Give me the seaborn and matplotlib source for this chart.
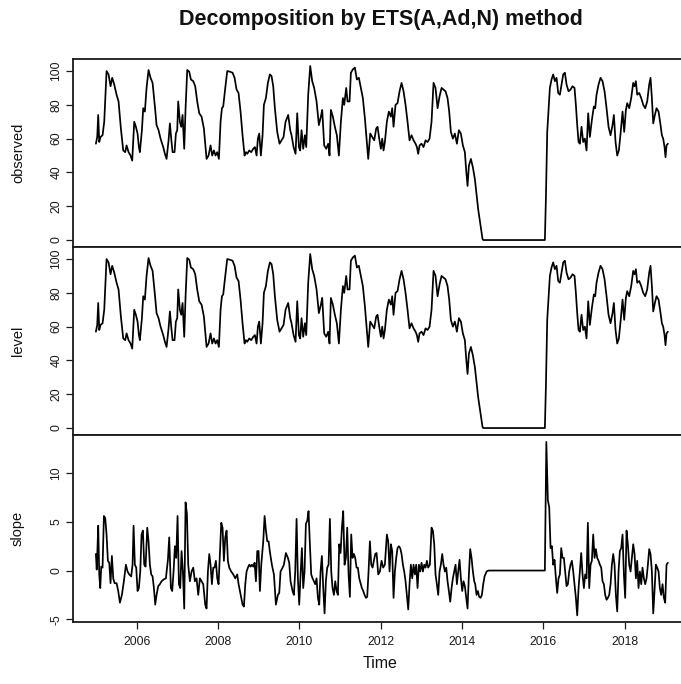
import matplotlib
matplotlib.use("Agg")
import matplotlib.pyplot as plt
import seaborn as sns
import numpy as np
import pandas as pd

# ---------------- data ----------------
obs_time = [
    2005.000, 2005.033, 2005.057, 2005.082, 2005.115, 2005.164, 2005.205, 2005.262, 2005.311, 2005.360,
    2005.401, 2005.451, 2005.508, 2005.557, 2005.614, 2005.672, 2005.721, 2005.754, 2005.803, 2005.852,
    2005.893, 2005.942, 2005.983, 2006.024, 2006.057, 2006.081, 2006.131, 2006.163, 2006.204, 2006.245,
    2006.294, 2006.343, 2006.393, 2006.450, 2006.491, 2006.540, 2006.589, 2006.655, 2006.696, 2006.737,
    2006.786, 2006.819, 2006.851, 2006.884, 2006.933, 2006.966, 2006.999, 2007.023, 2007.064, 2007.097,
    2007.130, 2007.171, 2007.204, 2007.245, 2007.294, 2007.335, 2007.392, 2007.441, 2007.490, 2007.540,
    2007.597, 2007.654, 2007.687, 2007.720, 2007.769, 2007.818, 2007.859, 2007.900, 2007.941, 2007.982,
    2008.023, 2008.064, 2008.097, 2008.129, 2008.170, 2008.228, 2008.293, 2008.359, 2008.408, 2008.457,
    2008.506, 2008.555, 2008.604, 2008.654, 2008.686, 2008.719, 2008.768, 2008.817, 2008.867, 2008.908,
    2008.949, 2008.981, 2009.014, 2009.055, 2009.096, 2009.129, 2009.178, 2009.227, 2009.276, 2009.317,
    2009.358, 2009.399, 2009.456, 2009.513, 2009.563, 2009.612, 2009.661, 2009.726, 2009.776, 2009.808,
    2009.858, 2009.907, 2009.948, 2009.989, 2010.021, 2010.054, 2010.095, 2010.136, 2010.169, 2010.218,
    2010.267, 2010.316, 2010.365, 2010.423, 2010.480, 2010.529, 2010.562, 2010.611, 2010.660, 2010.709,
    2010.742, 2010.775, 2010.824, 2010.873, 2010.922, 2010.972, 2011.021, 2011.070, 2011.103, 2011.152,
    2011.185, 2011.234, 2011.267, 2011.316, 2011.365, 2011.414, 2011.463, 2011.512, 2011.561, 2011.611,
    2011.652, 2011.693, 2011.742, 2011.791, 2011.840, 2011.889, 2011.922, 2011.963, 2012.004, 2012.037,
    2012.069, 2012.102, 2012.151, 2012.200, 2012.250, 2012.282, 2012.315, 2012.364, 2012.413, 2012.463,
    2012.512, 2012.561, 2012.610, 2012.659, 2012.708, 2012.757, 2012.807, 2012.856, 2012.889, 2012.921,
    2012.954, 2013.003, 2013.052, 2013.102, 2013.151, 2013.200, 2013.249, 2013.298, 2013.347, 2013.397,
    2013.446, 2013.495, 2013.544, 2013.593, 2013.642, 2013.683, 2013.724, 2013.773, 2013.822, 2013.872,
    2013.921, 2013.970, 2014.019, 2014.068, 2014.101, 2014.134, 2014.167, 2014.216, 2014.265, 2014.314,
    2014.350, 2014.396, 2014.453, 2014.502, 2014.519, 2016.034, 2016.059, 2016.092, 2016.133, 2016.157,
    2016.198, 2016.239, 2016.280, 2016.321, 2016.362, 2016.403, 2016.444, 2016.485, 2016.526, 2016.567,
    2016.616, 2016.665, 2016.714, 2016.763, 2016.796, 2016.829, 2016.862, 2016.894, 2016.935, 2016.976,
    2017.017, 2017.058, 2017.099, 2017.140, 2017.189, 2017.238, 2017.271, 2017.304, 2017.353, 2017.402,
    2017.451, 2017.501, 2017.550, 2017.599, 2017.648, 2017.697, 2017.730, 2017.771, 2017.812, 2017.853,
    2017.894, 2017.943, 2017.984, 2018.025, 2018.058, 2018.107, 2018.156, 2018.205, 2018.238, 2018.271,
    2018.303, 2018.353, 2018.402, 2018.451, 2018.500, 2018.549, 2018.598, 2018.631, 2018.664, 2018.697,
    2018.738, 2018.778, 2018.828, 2018.877, 2018.910, 2018.942, 2018.975, 2018.999, 2019.024, 2019.057,
]
obs_values = [
    57, 61, 74, 58, 61, 62, 70, 100, 98, 91,
    96, 92, 86, 82, 66, 53, 52, 56, 52, 50,
    47, 70, 67, 63, 55, 52, 65, 78, 76, 90,
    100.6, 96, 93, 79, 68, 65, 60, 55, 51, 48,
    59, 69, 60, 52, 52, 63, 65, 82, 70, 67,
    74, 54, 78, 100.6, 99.6, 95, 94, 91, 82, 75,
    73, 66, 57, 48, 50, 56, 50, 53, 50, 52,
    48, 70, 78, 79, 88, 100, 99.6, 99, 96, 89,
    87, 76, 62, 50, 52, 51, 53, 52, 54, 55,
    50, 60, 63, 50, 62, 80, 84, 93, 98, 97,
    91, 78, 64, 57, 59, 61, 70, 74, 65, 62,
    55, 51, 75, 55, 53, 65, 54, 62, 55, 86,
    103, 94, 90, 82, 68, 73, 77, 56, 54, 57,
    50, 77, 73, 67, 62, 50, 70, 84, 80, 90,
    82, 82, 99, 101, 102, 95, 96, 90, 84, 72,
    60, 48, 63, 61, 59, 66, 67, 60, 54, 60,
    53, 58, 70, 76, 73, 78, 67, 80, 81, 88,
    93, 88, 80, 70, 59, 62, 59, 57, 55, 51,
    56, 57, 55, 59, 58, 60, 70, 93, 90, 78,
    85, 90, 89, 88, 84, 76, 64, 60, 63, 57,
    65, 63, 56, 52, 41, 32, 44, 48, 43, 36,
    28, 18, 8.5, 0.6, 0, 0, 24, 64, 80, 90,
    95, 98, 94, 96, 87, 86, 92, 98, 99, 92,
    88, 89, 91, 90, 80, 68, 58, 57, 67, 58,
    60, 53, 75, 61, 71, 79, 78, 86, 92, 96,
    94, 88, 78, 67, 62, 68, 74, 58, 50, 53,
    63, 76, 64, 77, 81, 78, 84, 93, 91, 94,
    86, 87, 84, 80, 78, 82, 92, 96, 84, 69,
    74, 78, 76, 68, 62, 60, 55, 49, 56, 57,
]
# the fitted level follows the observed series
level_time = list(obs_time)
level_values = list(obs_values)

slope_time = [
    2005.000, 2005.020, 2005.033, 2005.057, 2005.082, 2005.107, 2005.131, 2005.164, 2005.197, 2005.229,
    2005.262, 2005.295, 2005.328, 2005.360, 2005.393, 2005.426, 2005.459, 2005.508, 2005.549, 2005.590,
    2005.639, 2005.688, 2005.737, 2005.778, 2005.819, 2005.868, 2005.901, 2005.926, 2005.958, 2005.991,
    2006.024, 2006.057, 2006.090, 2006.122, 2006.155, 2006.188, 2006.221, 2006.262, 2006.294, 2006.327,
    2006.360, 2006.393, 2006.426, 2006.458, 2006.491, 2006.532, 2006.573, 2006.614, 2006.671, 2006.720,
    2006.770, 2006.802, 2006.843, 2006.876, 2006.909, 2006.942, 2006.974, 2007.007, 2007.040, 2007.073,
    2007.105, 2007.138, 2007.171, 2007.204, 2007.237, 2007.269, 2007.310, 2007.351, 2007.392, 2007.433,
    2007.474, 2007.515, 2007.556, 2007.597, 2007.638, 2007.687, 2007.720, 2007.753, 2007.786, 2007.818,
    2007.851, 2007.884, 2007.917, 2007.949, 2007.982, 2008.015, 2008.048, 2008.081, 2008.113, 2008.146,
    2008.179, 2008.212, 2008.244, 2008.277, 2008.326, 2008.376, 2008.425, 2008.474, 2008.507, 2008.539,
    2008.572, 2008.605, 2008.638, 2008.671, 2008.703, 2008.736, 2008.769, 2008.802, 2008.834, 2008.867,
    2008.900, 2008.933, 2008.966, 2008.998, 2009.031, 2009.064, 2009.113, 2009.146, 2009.179, 2009.211,
    2009.244, 2009.277, 2009.325, 2009.375, 2009.424, 2009.473, 2009.506, 2009.538, 2009.588, 2009.620,
    2009.669, 2009.719, 2009.751, 2009.784, 2009.833, 2009.866, 2009.899, 2009.932, 2009.964, 2009.997,
    2010.030, 2010.063, 2010.095, 2010.128, 2010.161, 2010.194, 2010.226, 2010.259, 2010.292, 2010.325,
    2010.358, 2010.390, 2010.423, 2010.456, 2010.489, 2010.521, 2010.554, 2010.587, 2010.620, 2010.652,
    2010.685, 2010.718, 2010.751, 2010.784, 2010.816, 2010.849, 2010.882, 2010.915, 2010.947, 2010.980,
    2011.013, 2011.046, 2011.078, 2011.111, 2011.144, 2011.177, 2011.210, 2011.242, 2011.275, 2011.308,
    2011.341, 2011.373, 2011.406, 2011.439, 2011.472, 2011.504, 2011.537, 2011.570, 2011.603, 2011.636,
    2011.668, 2011.701, 2011.734, 2011.767, 2011.799, 2011.832, 2011.865, 2011.898, 2011.939, 2011.980,
    2012.020, 2012.061, 2012.102, 2012.151, 2012.184, 2012.217, 2012.250, 2012.282, 2012.315, 2012.348,
    2012.381, 2012.413, 2012.446, 2012.479, 2012.512, 2012.545, 2012.577, 2012.610, 2012.643, 2012.676,
    2012.708, 2012.741, 2012.774, 2012.807, 2012.840, 2012.872, 2012.905, 2012.938, 2012.971, 2013.003,
    2013.036, 2013.069, 2013.102, 2013.135, 2013.167, 2013.208, 2013.249, 2013.282, 2013.315, 2013.347,
    2013.380, 2013.413, 2013.446, 2013.478, 2013.511, 2013.544, 2013.577, 2013.610, 2013.642, 2013.675,
    2013.708, 2013.741, 2013.773, 2013.806, 2013.839, 2013.872, 2013.904, 2013.937, 2013.970, 2014.003,
    2014.035, 2014.068, 2014.101, 2014.134, 2014.167, 2014.199, 2014.232, 2014.265, 2014.298, 2014.322,
    2014.355, 2014.388, 2014.420, 2014.453, 2014.486, 2014.519, 2014.552, 2014.601, 2014.650, 2016.034,
    2016.070, 2016.108, 2016.141, 2016.174, 2016.206, 2016.239, 2016.272, 2016.305, 2016.337, 2016.370,
    2016.403, 2016.436, 2016.468, 2016.501, 2016.534, 2016.567, 2016.600, 2016.632, 2016.665, 2016.698,
    2016.731, 2016.763, 2016.796, 2016.829, 2016.862, 2016.894, 2016.927, 2016.960, 2016.993, 2017.025,
    2017.058, 2017.091, 2017.124, 2017.157, 2017.189, 2017.222, 2017.255, 2017.288, 2017.320, 2017.353,
    2017.386, 2017.419, 2017.451, 2017.484, 2017.517, 2017.550, 2017.583, 2017.615, 2017.648, 2017.681,
    2017.714, 2017.746, 2017.779, 2017.812, 2017.845, 2017.877, 2017.910, 2017.943, 2017.976, 2018.008,
    2018.041, 2018.074, 2018.107, 2018.140, 2018.172, 2018.205, 2018.238, 2018.271, 2018.303, 2018.336,
    2018.369, 2018.402, 2018.434, 2018.467, 2018.500, 2018.533, 2018.566, 2018.598, 2018.631, 2018.664,
    2018.697, 2018.729, 2018.762, 2018.795, 2018.828, 2018.860, 2018.893, 2018.926, 2018.959, 2018.991,
    2019.024, 2019.057,
]
slope_values = [
    1.7, 0.1, 1.5, 4.6, -0.4, -1.8, 0.4, 0.3, 5.6, 5.4,
    3.7, 1.0, 0.8, -1.3, 1.5, -0.8, -1.3, -1.3, -2.1, -3.3,
    -2.5, -1.1, 0.6, -0.1, -0.4, -0.6, 0.6, 4.6, 0.6, 0.3,
    -2.1, -1.8, -0.1, 3.7, 4.1, 0.6, 0.4, 4.4, 3.0, 0.6,
    -0.4, -0.6, -1.8, -3.5, -2.5, -1.6, -1.4, -1.1, -0.9, -0.8,
    1.1, 3.4, -1.8, -2.1, -0.1, 2.5, 1.3, 5.6, -1.4, -1.8,
    2.0, -0.1, -3.9, 7.0, 5.8, 0.6, -1.1, -0.1, 0.3, -1.1,
    -0.8, -2.5, -0.8, -1.1, -1.4, -3.5, -3.9, -0.1, 1.7, 0.6,
    -1.4, 0.3, 0.3, 1.0, -0.8, -1.4, 1.7, 4.9, 4.4, 1.0,
    3.4, 4.1, 1.0, 0.3, -0.1, -0.4, -0.8, -0.4, -1.4, -2.1,
    -2.8, -3.5, -3.7, -1.4, -0.1, 0.3, 0.6, 0.4, 0.6, 0.4,
    0.8, -1.1, 2.0, 2.0, -2.1, 0.6, 3.0, 5.6, 4.1, 3.0,
    3.0, 1.9, 0.6, -0.4, -3.5, -2.5, -2.3, -0.1, 0.3, 0.6,
    1.8, 1.3, 0.8, -1.1, -2.1, -2.5, -0.1, 5.3, -0.8, -3.5,
    -0.4, 2.3, -1.8, -0.1, 4.8, 5.1, 6.1, 2.7, -0.4, -0.8,
    -1.1, -1.4, -0.8, -2.8, -3.5, -0.1, 1.5, -1.8, -4.4, -1.1,
    0.3, 0.6, 5.3, -0.1, -1.8, -2.5, -1.1, -2.1, -2.5, 2.7,
    1.8, 4.4, 6.1, 0.6, 1.3, 4.4, -0.4, -2.7, 3.7, 1.3,
    1.7, 1.3, 0.3, 0.3, -0.8, -1.3, -1.8, -2.1, -2.5, -2.8,
    -2.7, -0.1, 3.0, 0.6, 0.3, 1.0, 1.7, 1.8, -0.4, -0.1,
    1.0, 0.3, 0.6, 3.7, 3.0, -0.1, 2.7, 2.0, -2.8, -0.1,
    1.3, 2.3, 2.5, 2.3, 1.7, 0.6, -0.1, -1.1, -2.5, -4.0,
    -1.4, 0.6, -0.8, 0.6, -0.4, 0.6, -1.8, 0.6, -0.1, 0.8,
    -0.1, 0.6, 0.3, 1.0, 0.3, 0.6, 4.4, 4.1, 2.7, -0.4,
    -1.4, -2.5, -0.1, 0.6, 1.7, 0.6, -0.1, 0.3, -1.1, -2.1,
    -3.2, -1.8, -0.8, -0.1, 0.6, -1.4, -0.1, 1.1, -0.8, -2.1,
    -1.1, -1.6, -2.8, -3.9, -0.4, 2.2, 1.3, -0.1, -1.1, -1.4,
    -2.5, -2.1, -2.7, -2.8, -2.5, -1.4, -0.6, -0.1, 0.0, 0.0,
    13.2, 7.2, 6.5, 2.3, 2.5, 0.6, 1.1, -0.8, -2.3, -0.8,
    -0.4, 2.3, 1.3, 1.3, -0.1, -1.6, -1.4, -0.1, 0.6, 1.0,
    -0.1, -1.4, -2.8, -4.6, -1.8, -0.1, 1.8, -0.4, -1.8, -0.4,
    -0.8, 4.9, -1.8, 0.6, 1.0, 3.7, 1.3, 2.2, 1.3, 1.0,
    0.6, 0.3, -1.1, -1.4, -2.5, -3.0, -2.8, -2.5, -1.4, 0.6,
    1.7, 0.6, -2.5, -4.2, -0.1, 2.0, 2.3, 3.7, -0.4, -2.8,
    4.1, 2.7, 0.6, -0.1, 1.3, 2.7, 1.7, -0.8, 1.0, -1.8,
    -0.1, -1.4, 0.3, -0.8, -1.4, -0.8, 0.6, 2.2, 1.7, -0.1,
    -4.4, -2.1, 0.6, 0.3, -0.1, -1.8, -2.5, -1.4, -2.8, -3.3,
    0.6, 0.8,
]

panel_names = ["observed", "level", "slope"]
obs_ticks = [0, 20, 40, 60, 80, 100]
slope_ticks = [-5, 0, 5, 10]
year_ticks = [2006, 2008, 2010, 2012, 2014, 2016, 2018]
title_text = "Decomposition by ETS(A,Ad,N) method"
xlabel_text = "Time"

# ---------------- styling ----------------
sns.set_theme(style="white")
plt.rcParams["font.family"] = ["Liberation Sans", "DejaVu Sans"]

W, H = 681, 684
fig = plt.figure(figsize=(W / 100, H / 100), dpi=100)
fig.patch.set_facecolor("white")

left_px = 72.7
px_per_year = 40.69
x0 = 2004.43
x1 = 2019.62
width_px = (x1 - x0) * px_per_year

panels = [
    (59.0, 247.0, obs_time, obs_values, obs_ticks),
    (247.0, 435.0, level_time, level_values, obs_ticks),
    (435.0, 622.3, slope_time, slope_values, slope_ticks),
]

axes = []
for i, (top, bot, tt, vv, ticks) in enumerate(panels):
    ax = fig.add_axes([left_px / W, 1 - bot / H, width_px / W, (bot - top) / H])
    df = pd.DataFrame({"t": tt, "v": vv})
    sns.lineplot(data=df, x="t", y="v", ax=ax, color="black", linewidth=1.25,
                 estimator=None, sort=False)
    vmin, vmax = min(vv), max(vv)
    r = vmax - vmin
    ax.set_ylim(vmin - 0.04 * r, vmax + 0.04 * r)
    ax.set_xlim(x0, x1)
    ax.set_yticks(ticks)
    ax.set_yticklabels([str(t) for t in ticks])
    ax.set_xlabel("")
    ax.set_ylabel("")
    for s in ax.spines.values():
        s.set_color("#1a1a1a")
        s.set_linewidth(1.3)
    ax.tick_params(axis="y", which="both", left=True, length=5, width=0.9,
                   color="#1a1a1a", labelsize=8.7, pad=2.5, labelcolor="#1a1a1a")
    for lab in ax.get_yticklabels():
        lab.set_rotation(90)
        lab.set_va("center")
        lab.set_ha("right")
    if i < 2:
        ax.set_xticks([])
    else:
        ax.set_xticks(year_ticks)
        ax.set_xticklabels([str(y) for y in year_ticks])
        ax.tick_params(axis="x", which="both", bottom=True, length=5, width=0.9,
                       color="#1a1a1a", labelsize=8.7, pad=5, labelcolor="#1a1a1a")
    ax.grid(False)
    ax.set_facecolor("white")
    fig.text(18 / W, 1 - ((top + bot) / 2) / H, panel_names[i], rotation=90,
             ha="center", va="center", fontsize=10.5, color="#111111")
    axes.append(ax)

fig.text(381 / W, 1 - 19 / H, title_text, ha="center", va="center",
         fontsize=15.5, fontweight="bold", color="#111111")
fig.text(380 / W, 1 - 663 / H, xlabel_text, ha="center", va="center",
         fontsize=11.5, color="#111111")

fig.savefig("out.png", dpi=100, facecolor="white")
